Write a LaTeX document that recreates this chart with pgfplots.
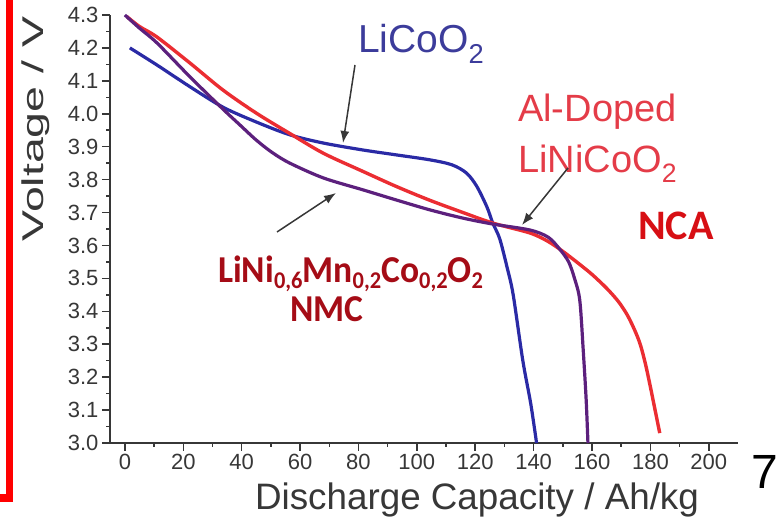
\documentclass[border=0pt]{standalone}
\usepackage{pgfplots}
\pgfplotsset{compat=1.18}
\usepackage{fontspec}
\setmainfont{Liberation Sans}
\newfontfamily\calib{Carlito}
\usetikzlibrary{arrows.meta}
\definecolor{cblue}{RGB}{42,42,165}
\definecolor{cpurple}{RGB}{92,32,125}
\definecolor{cred}{RGB}{235,45,50}
\definecolor{axgray}{RGB}{55,55,55}
\definecolor{lblue}{RGB}{60,60,155}
\definecolor{lred}{RGB}{228,60,72}
\definecolor{ncared}{RGB}{215,15,20}
\definecolor{nmcred}{RGB}{165,12,22}
\newcommand{\sbs}[1]{\raisebox{-6pt}{\fontsize{24}{24}\selectfont #1}}
\begin{document}
\begin{tikzpicture}[x=1pt,y=1pt]
\useasboundingbox (0,0) rectangle (782,521);
\begin{axis}[
  at={(110pt,78pt)}, anchor=south west,
  scale only axis, width=628pt, height=428pt,
  xmin=-5.1, xmax=210, ymin=3.0, ymax=4.3,
  axis x line=bottom, axis y line=left,
  axis line style={-, axgray, line width=1.8pt},
  xtick={0,20,...,200}, minor x tick num=1,
  ytick={3.0,3.1,3.2,3.3,3.4,3.5,3.6,3.7,3.8,3.9,4.0,4.1,4.2,4.3}, minor y tick num=1,
  tick align=outside, major tick length=8pt, minor tick length=4pt,
  every tick/.style={axgray, line width=1.5pt},
  tick label style={font=\fontsize{22}{22}\selectfont, text=axgray},
  /pgf/number format/assume math mode=true,
  yticklabel style={/pgf/number format/.cd, fixed, fixed zerofill, precision=1},
  xticklabel style={/pgf/number format/.cd, fixed},
  clip=false,
]
\addplot[cblue, line width=3.2pt, smooth] coordinates {
(1.7,4.20) (11,4.148) (22.3,4.082) (33.6,4.02) (45,3.975) (56.5,3.936) (68,3.911) (81.5,3.89) (93,3.875) (104.5,3.86) (112,3.845) (117,3.82) (120.5,3.78) (124,3.717) (126,3.668) (128.4,3.62) (131,3.53) (133,3.45) (136.3,3.25) (139,3.12) (141,3.0)
};
\addplot[cred, line width=3.4pt, smooth] coordinates {
(0.7,4.295) (5,4.265) (11,4.233) (22.3,4.154) (33.6,4.072) (45,4.002) (56.5,3.94) (68,3.88) (81.5,3.825) (93,3.779) (104.5,3.737) (115.8,3.70) (126,3.668) (138.7,3.638) (145,3.612) (150,3.582) (155,3.548) (160,3.512) (165,3.47) (169,3.43) (172,3.39) (174.5,3.345) (176.5,3.30) (178.3,3.24) (180,3.17) (181.6,3.10) (183.2,3.03)
};
\addplot[cpurple, line width=3.2pt, smooth] coordinates {
(0,4.30) (5,4.26) (11,4.215) (22.3,4.112) (33.6,4.014) (39.4,3.966) (45,3.92) (50.5,3.882) (56.5,3.85) (68,3.805) (81.5,3.769) (93,3.738) (104.5,3.708) (115.8,3.683) (126,3.665) (138.7,3.647) (145,3.625) (149,3.588) (152,3.55) (154,3.50) (155.8,3.434) (157,3.28) (158,3.13) (158.6,3.0)
};
\end{axis}
% axis titles
\node[rotate=90, text=axgray] at (36,392) {\scalebox{1.55}[1]{\fontsize{30}{30}\selectfont Voltage / V}};
\node[text=axgray, anchor=base] at (477,11) {\fontsize{36.8}{37}\selectfont Discharge Capacity / Ah/kg};
% annotations
\node[anchor=base west, text=lblue, inner sep=0] at (358,468) {\fontsize{39}{39}\selectfont LiCoO\textsubscript{2}};
\node[anchor=base west, text=lred, inner sep=0] at (518,399) {\fontsize{38}{38}\selectfont Al-Doped};
\node[anchor=base west, text=lred, inner sep=0] at (518,348) {\fontsize{38}{38}\selectfont LiNiCoO\textsubscript{2}};
\node[anchor=base west, text=ncared, inner sep=0] at (638,281) {\calib\bfseries\fontsize{42}{42}\selectfont NCA};
\node[anchor=base west, text=nmcred, inner sep=0] at (218,238) {\scalebox{0.935}[1]{\calib\bfseries\fontsize{38}{38}\selectfont LiNi\sbs{0,6}Mn\sbs{0,2}Co\sbs{0,2}O\sbs{2}}};
\node[anchor=base, text=nmcred, inner sep=0] at (327,199) {\scalebox{0.935}[1]{\calib\bfseries\fontsize{38}{38}\selectfont NMC}};
\draw[axgray, line width=1.5pt, -{Latex[length=12pt,width=9pt]}] (355,456) -- (343,378);
\draw[axgray, line width=1.5pt, -{Latex[length=12pt,width=9pt]}] (568,353) -- (522,296);
\draw[axgray, line width=1.5pt, -{Latex[length=12pt,width=9pt]}] (277,289) -- (336,328);
\node[anchor=center] at (765,49) {\fontsize{48}{48}\selectfont 7};
\draw[red, line width=7.5pt] (0,23) -- (9.5,23) -- (9.5,530);
\end{tikzpicture}
\end{document}
